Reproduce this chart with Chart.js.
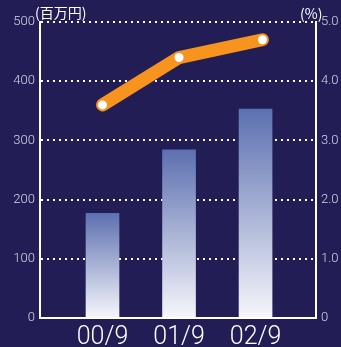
<!DOCTYPE html>
<html>
<head>
<meta charset="utf-8">
<script src="https://cdn.jsdelivr.net/npm/chart.js@4"></script>
<style>
  html, body { margin: 0; padding: 0; background: #221e55; }
  #wrap { width: 341px; height: 347px; }
</style>
</head>
<body>
<div id="wrap"><canvas id="chart" width="341" height="347"></canvas></div>
<script>
// Periods, sales (百万円) and ratio (%)
const periods = ["00/9", "01/9", "02/9"];
const sales = [177, 284, 353];
const ratio = [3.6, 4.4, 4.7];
const ratioPos = [0, 1, 2.09]; // where the ratio points sit along the period axis
const salesTicks = [0, 100, 200, 300, 400, 500];
const ratioTicks = ["0", "1.0", "2.0", "3.0", "4.0", "5.0"];

const tickFont = { family: "Roboto, sans-serif", size: 13, weight: 300 };
const tickColor = "#d6d6e4";

// vertical fade for each bar, from its top down to the base
function barGradient(ctx) {
    const chart = ctx.chart;
    const { chartArea } = chart;
    if (!chartArea || ctx.raw === undefined) return "#6677b5";
    const y = chart.scales.y;
    const top = y.getPixelForValue(ctx.raw.y);
    const g = chart.ctx.createLinearGradient(0, top, 0, y.getPixelForValue(0));
    g.addColorStop(0, "#5c70b0");
    g.addColorStop(1, "#f6f6fb");
    return g;
}

// unit captions above both axes
const unitLabels = {
    id: "unitLabels",
    afterDraw(chart) {
        const c = chart.ctx;
        c.save();
        c.fillStyle = "#ffffff";
        c.font = "14px 'Noto Sans CJK JP', sans-serif";
        c.textBaseline = "middle";
        c.textAlign = "left";
        c.fillText("(百万円)", 35, 13);
        c.fillText("(%)", 300, 14);
        c.restore();
    }
};

new Chart(document.getElementById("chart"), {
    type: "bar",
    data: {
        datasets: [
            {
                type: "line",
                data: ratio.map((v, i) => ({ x: ratioPos[i], y: v })),
                yAxisID: "y1",
                borderColor: "#f7941d",
                borderWidth: 13,
                borderCapStyle: "round",
                borderJoinStyle: "round",
                pointRadius: 4.5,
                pointBorderWidth: 0,
                pointBackgroundColor: "#ffffff",
                order: 1
            },
            {
                data: sales.map((v, i) => ({ x: i, y: v })),
                yAxisID: "y",
                backgroundColor: barGradient,
                barThickness: 33,
                order: 2
            }
        ]
    },
    options: {
        responsive: false,
        animation: false,
        layout: { padding: { top: 22, left: 0, right: 0, bottom: 0 } },
        plugins: { legend: { display: false }, tooltip: { enabled: false } },
        scales: {
            x: {
                type: "linear",
                offset: false,
                min: -0.817,
                max: 2.79,
                afterBuildTicks: s => { s.ticks = periods.map((p, i) => ({ value: i })); },
                afterFit: s => { s.height = 29; },
                grid: { display: false, offset: false },
                border: { display: true, color: "#ffffff", width: 2 },
                ticks: {
                    callback: v => periods[v],
                    color: "#ffffff",
                    font: { family: "Roboto, sans-serif", size: 25, weight: 300, lineHeight: 1 },
                    padding: -1,
                    maxRotation: 0,
                    autoSkip: false
                }
            },
            y: {
                position: "left",
                min: 0,
                max: 500,
                afterBuildTicks: s => { s.ticks = salesTicks.map(v => ({ value: v })); },
                afterFit: s => { s.width = 40; },
                grid: { color: "#ffffff", lineWidth: 2, drawTicks: false },
                border: { display: true, color: "#ffffff", width: 2, dash: [2, 4] },
                ticks: { color: tickColor, font: tickFont, padding: 5 }
            },
            y1: {
                position: "right",
                min: 0,
                max: 5,
                afterBuildTicks: s => { s.ticks = ratioTicks.map((t, i) => ({ value: i })); },
                afterFit: s => { s.width = 25; },
                grid: { drawOnChartArea: false, drawTicks: false },
                border: { display: true, color: "#ffffff", width: 2 },
                ticks: { color: tickColor, font: tickFont, padding: 5, callback: v => ratioTicks[v] }
            }
        }
    },
    plugins: [unitLabels]
});
</script>
</body>
</html>
